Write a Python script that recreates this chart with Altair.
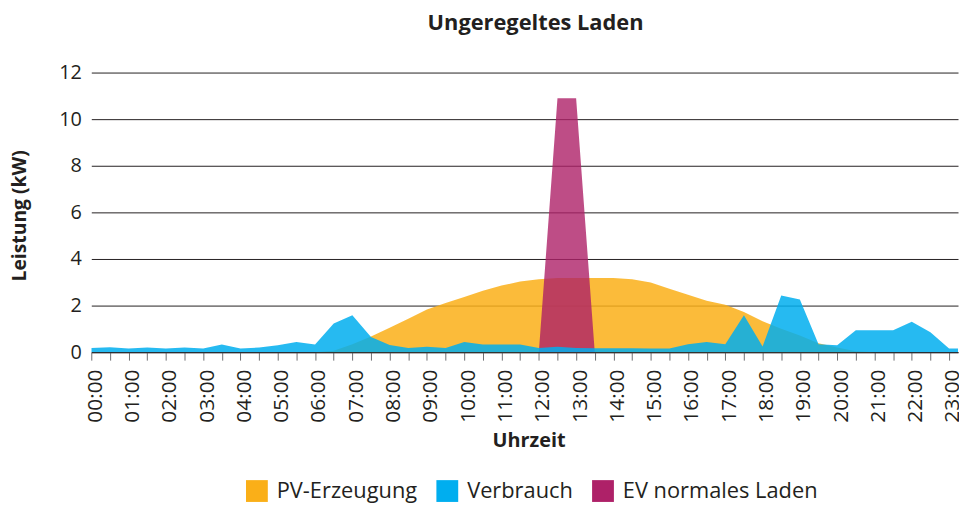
import altair as alt
import pandas as pd

times = ["00:00", "00:30", "01:00", "01:30", "02:00", "02:30", "03:00", "03:30",
         "04:00", "04:30", "05:00", "05:30", "06:00", "06:30", "07:00", "07:30",
         "08:00", "08:30", "09:00", "09:30", "10:00", "10:30", "11:00", "11:30",
         "12:00", "12:30", "13:00", "13:30", "14:00", "14:30", "15:00", "15:30",
         "16:00", "16:30", "17:00", "17:30", "18:00", "18:30", "19:00", "19:30",
         "20:00", "20:30", "21:00", "21:30", "22:00", "22:30", "23:00", "23:30"]

pv = [0, 0, 0, 0, 0, 0, 0, 0, 0, 0, 0, 0,
      0, 0.06, 0.34, 0.67, 1.05, 1.43, 1.83, 2.11, 2.37, 2.64, 2.86, 3.03,
      3.13, 3.18, 3.18, 3.18, 3.18, 3.13, 2.99, 2.72, 2.47, 2.21, 2.04, 1.73,
      1.33, 1.01, 0.72, 0.38, 0.2, 0.04, 0, 0, 0, 0, 0, 0]

verbrauch = [0.18, 0.21, 0.16, 0.2, 0.16, 0.2, 0.16, 0.33, 0.16, 0.2, 0.3, 0.44,
             0.33, 1.23, 1.59, 0.65, 0.31, 0.18, 0.23, 0.18, 0.44, 0.33, 0.33, 0.33,
             0.18, 0.23, 0.18, 0.17, 0.17, 0.17, 0.16, 0.16, 0.34, 0.44, 0.34, 1.59,
             0.24, 2.43, 2.26, 0.34, 0.3, 0.94, 0.94, 0.94, 1.31, 0.86, 0.16, 0.16]

ev = [0, 0, 0, 0, 0, 0, 0, 0, 0, 0, 0, 0,
      0, 0, 0, 0, 0, 0, 0, 0, 0, 0, 0, 0,
      0, 10.9, 10.9, 0, 0, 0, 0, 0, 0, 0, 0, 0,
      0, 0, 0, 0, 0, 0, 0, 0, 0, 0, 0, 0]

series_names = ["PV-Erzeugung", "Verbrauch", "EV normales Laden"]
series_colors = ["#FAAF18", "#00AEEF", "#AE2168"]
series_opacity = {"PV-Erzeugung": 0.85, "Verbrauch": 0.85, "EV normales Laden": 0.8}

rows = []
for name, vals in zip(series_names, [pv, verbrauch, ev]):
    for i, (t, v) in enumerate(zip(times, vals)):
        h, m = t.split(":")
        rows.append({"Serie": name, "Zeit": t, "Stunde": int(h) + int(m) / 60, "kW": v})
df = pd.DataFrame(rows)

# tick labels: only full hours labelled
label_list = [t if t.endswith(":00") else "" for t in times]
label_js = "[" + ",".join("'" + s + "'" for s in label_list) + "]"

FONT = "Open Sans"
TXT = "#231f20"

x = alt.X("Stunde:Q",
          scale=alt.Scale(domain=[0, 23.24], nice=False, zero=False),
          axis=alt.Axis(values=[i * 0.5 for i in range(47)],
                        labelExpr=label_js + "[round(datum.value*2)]",
                        labelAngle=-90, labelFontSize=21, labelColor=TXT,
                        labelPadding=9, labelFont=FONT, labelOffset=4,
                        domain=True, domainColor="#231f20", domainWidth=1,
                        ticks=True, tickColor="#6d6e71", tickSize=8, tickWidth=1,
                        grid=False, labelOverlap=False,
                        title="Uhrzeit", titleFont=FONT, titleFontSize=20,
                        titleFontWeight="bold", titleColor=TXT,
                        titleX=441, titleY=89, titleAlign="center",
                        titleBaseline="middle"))

y = alt.Y("kW:Q", stack=None,
          scale=alt.Scale(domain=[0, 12], nice=False),
          axis=alt.Axis(values=[0, 2, 4, 6, 8, 10, 12], grid=True,
                        gridColor="#231f20", gridWidth=1, domain=False, ticks=False,
                        labelFontSize=20, labelColor=TXT, labelPadding=10,
                        labelFont=FONT,
                        title="Leistung (kW)", titleFont=FONT, titleFontSize=19.5,
                        titleFontWeight="bold", titleColor=TXT,
                        titleX=-72, titleY=144, titleAngle=-90,
                        titleAlign="center", titleBaseline="middle"))

color = alt.Color("Serie:N",
                  scale=alt.Scale(domain=series_names, range=series_colors),
                  legend=alt.Legend(orient="none", legendX=156, legendY=411,
                                    direction="horizontal", title=None,
                                    symbolType="square", symbolSize=484,
                                    symbolStrokeWidth=0, symbolOpacity=1,
                                    labelFontSize=22, labelFont=FONT,
                                    labelColor=TXT, labelOffset=9,
                                    columnPadding=19, labelLimit=400))

base = alt.Chart(df)
layers = []
for name in ["PV-Erzeugung", "EV normales Laden", "Verbrauch"]:
    layers.append(
        base.transform_filter(alt.datum.Serie == name)
        .mark_area(clip=True, opacity=series_opacity[name], interpolate="linear")
        .encode(x=x, y=y, color=color)
    )

chart = alt.layer(*layers).properties(
    width=874, height=282,
    autosize="none",
    padding={"left": 84, "top": 63, "right": 1, "bottom": 153},
    title=alt.TitleParams("Ungeregeltes Laden", font=FONT, fontSize=22,
                          fontWeight="bold", color=TXT, anchor="middle",
                          offset=28, dx=11),
).configure_view(stroke=None)

chart.save("out.html", embed_options={"renderer": "svg", "actions": False})
